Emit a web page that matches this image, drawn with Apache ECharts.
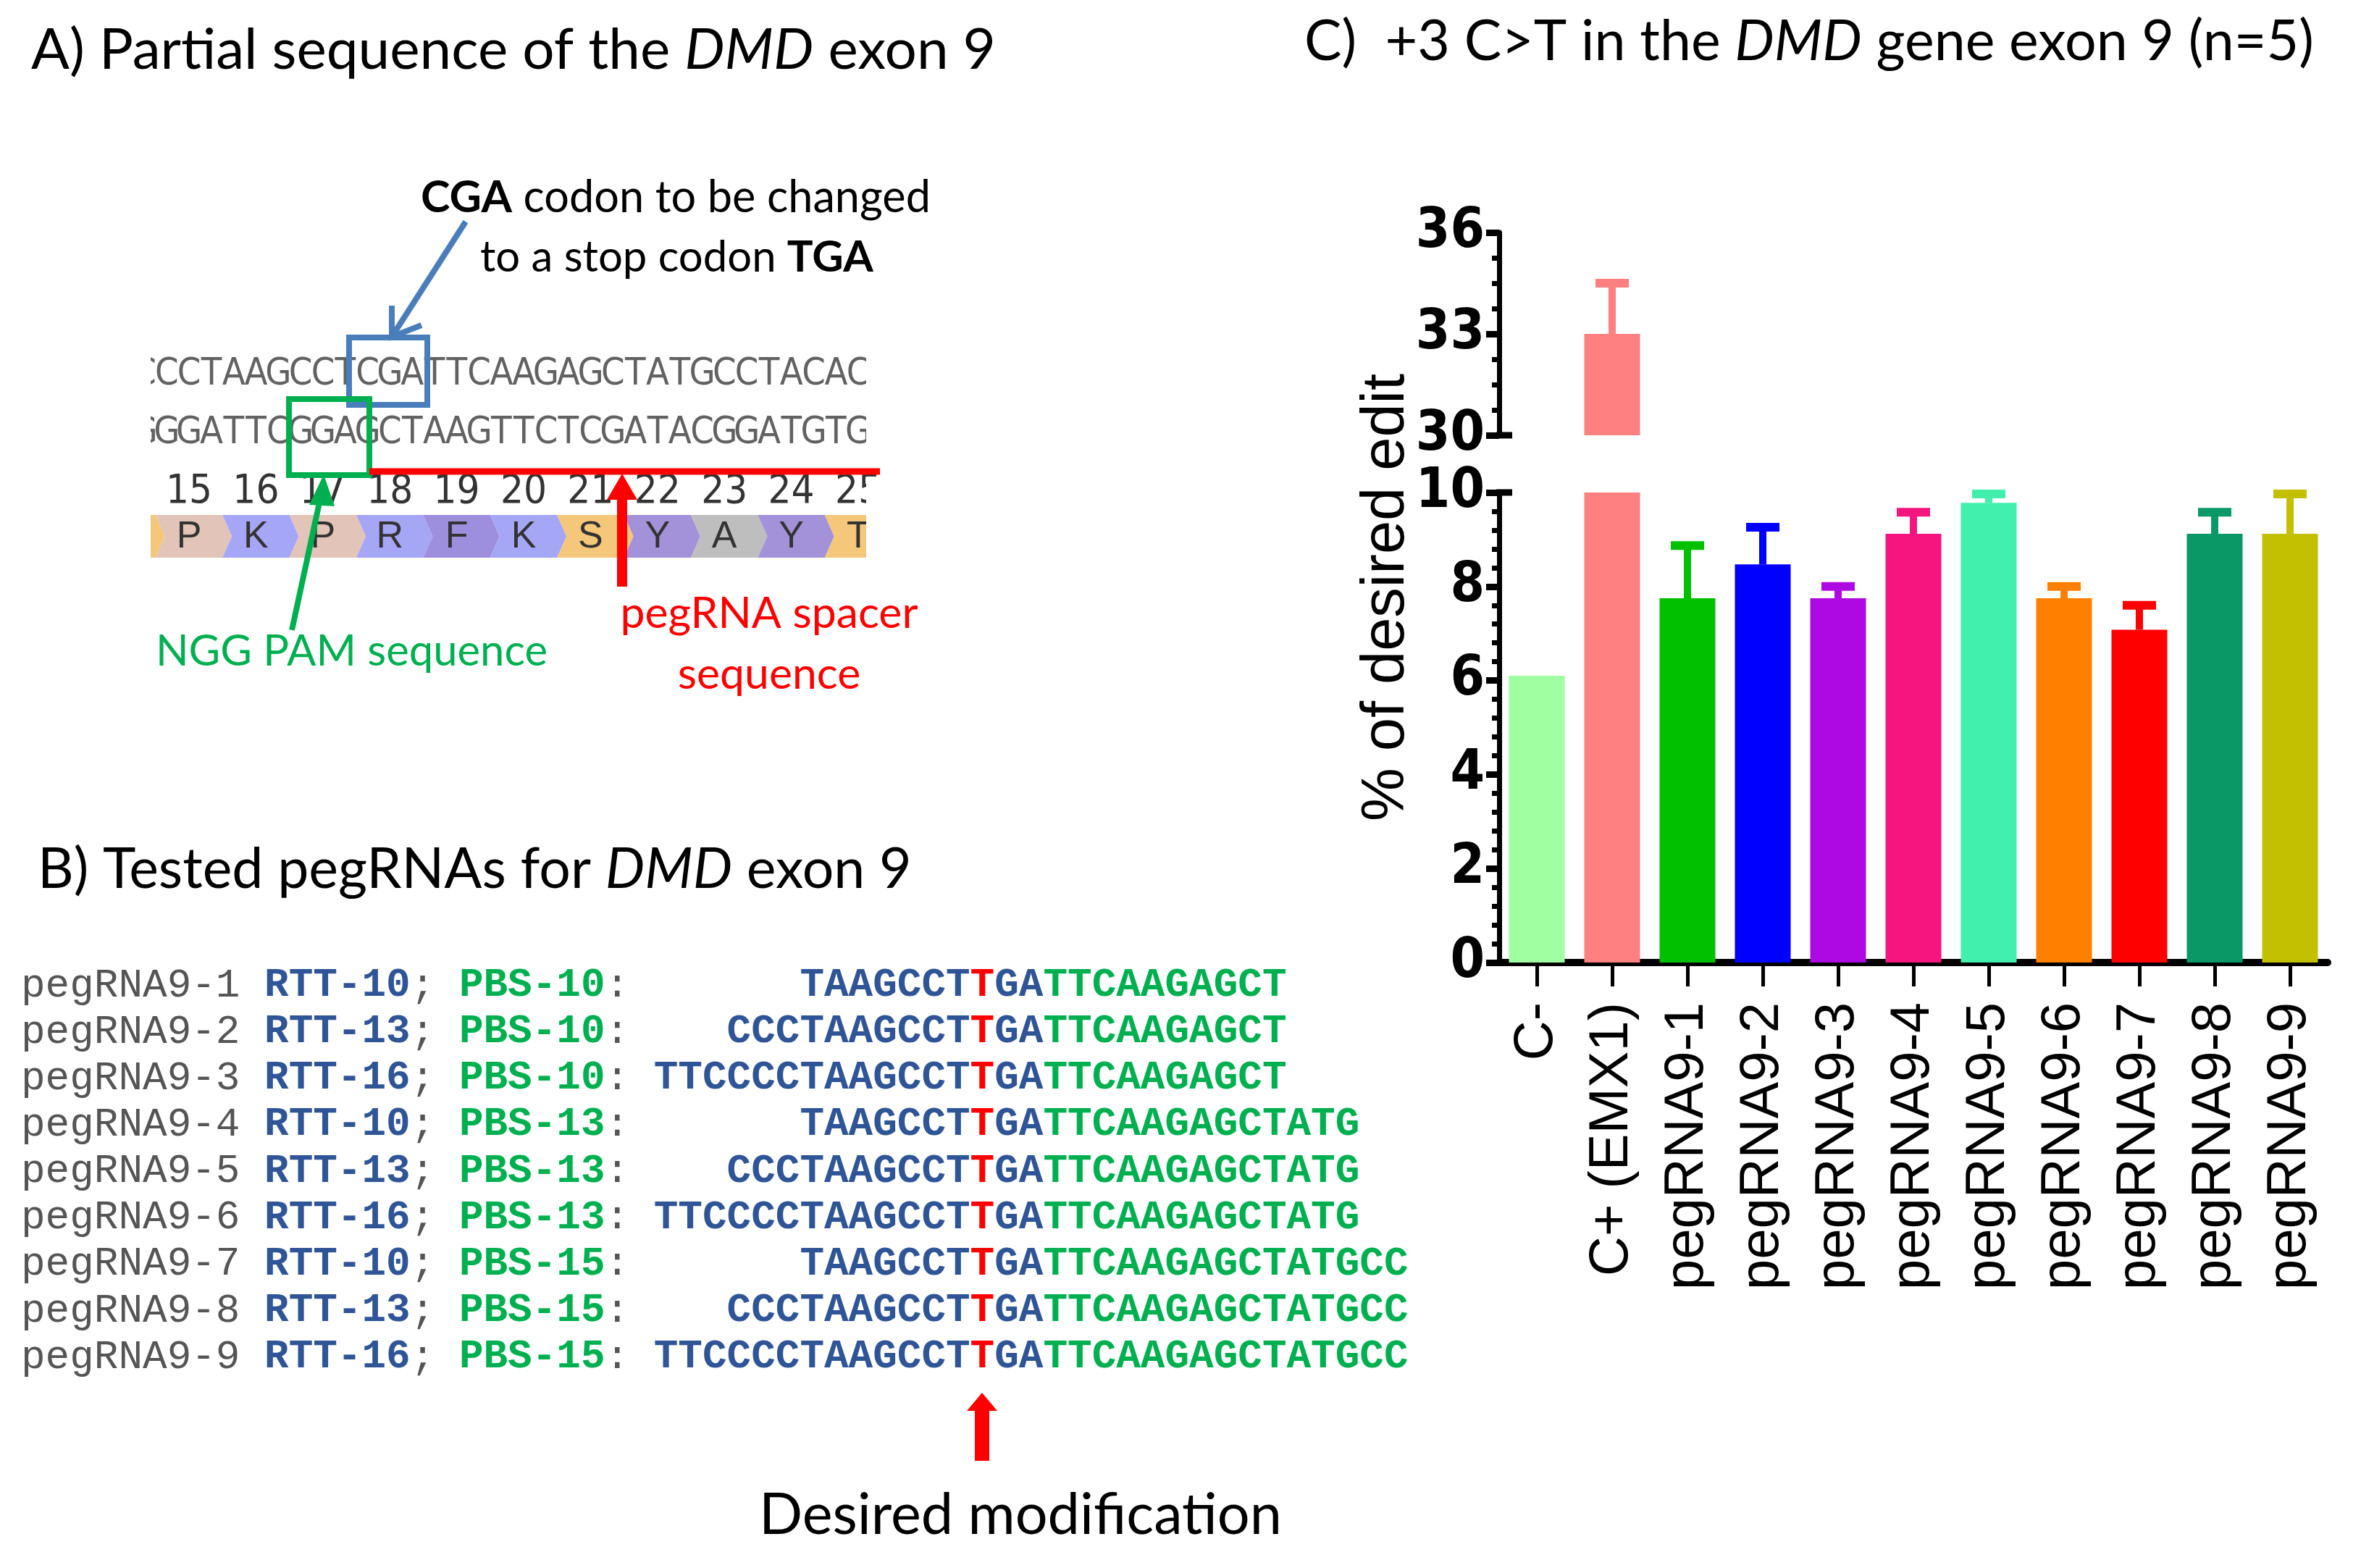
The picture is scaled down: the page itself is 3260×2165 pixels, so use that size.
<!DOCTYPE html>
<html><head><meta charset="utf-8">
<script src="https://cdn.jsdelivr.net/npm/echarts@6/dist/echarts.min.js"></script>
<style>html,body{margin:0;padding:0;background:#fff}#c{width:3260px;height:2165px}</style>
</head><body><div id="c"></div>
<script>
// ---------------- DATA ----------------
const categories = ['C-','C+ (EMX1)','pegRNA9-1','pegRNA9-2','pegRNA9-3','pegRNA9-4','pegRNA9-5','pegRNA9-6','pegRNA9-7','pegRNA9-8','pegRNA9-9'];
const meanValues = [6.1, 33.0, 7.75, 8.47, 7.75, 9.12, 9.78, 7.75, 7.08, 9.12, 9.12];
const errorTops  = [null, 34.5, 8.87, 9.26, 8.0, 9.58, 9.97, 8.0, 7.6, 9.58, 9.97];
const lowerTicks = [0, 2, 4, 6, 8, 10];
const upperTicks = [30, 33, 36];

const pegNames   = ['pegRNA9-1','pegRNA9-2','pegRNA9-3','pegRNA9-4','pegRNA9-5','pegRNA9-6','pegRNA9-7','pegRNA9-8','pegRNA9-9'];
const rttLengths = [10, 13, 16, 10, 13, 16, 10, 13, 16];
const pbsLengths = [10, 10, 10, 13, 13, 13, 15, 15, 15];
const rttTemplate = 'TTCCCCTAAGCCTTGA';
const pbsTemplate = 'TTCAAGAGCTATGCC';

const topStrand = 'CCTAAGCCTCGATTCAAGAGCTATGCCTACAC';
const bottomStrand = 'GGATTCGGAGCTAAGTTCTCGATACGGATGTG';
const codonNumbers = [15,16,17,18,19,20,21,22,23,24,25];
const aminoAcids = ['', 'P','K','P','R','F','K','S','Y','A','Y','T']; // codons 14..25

// ---------------- STYLE ----------------
const barColors = ['#A0FFA0','#FF8080','#00C000','#0000FF','#AE09E3','#F5157F','#42F0AE','#FF8000','#FF0000','#0A9966','#C2C000'];
const aaColors = ['#F4C77A','#E3C4B8','#A6A6F6','#E3C4B8','#A6A6F6','#9D8FDD','#A6A6F6','#F4C77A','#A392DA','#BEBEBE','#A392DA','#F4C77A'];
const SANS = "Lato, 'Open Sans', sans-serif";
const NARROW = "'Liberation Sans Narrow', 'DejaVu Sans Condensed', 'Liberation Sans', sans-serif";
const MONO = "'Liberation Mono', 'DejaVu Sans Mono', monospace";
const ARIAL = "'Liberation Sans', Arial, sans-serif";

const chart = echarts.init(document.getElementById('c'), null, {renderer:'canvas', width:3260, height:2165});

const ctx = document.createElement('canvas').getContext('2d');
function segWidth(segs, size, fam){
  let w = 0;
  for (const s of segs){ ctx.font = (s[1]||'') + ' ' + size + 'px ' + fam; w += ctx.measureText(s[0]).width; }
  return w;
}
function fitSize(segs, fam, target){ return 100 * target / segWidth(segs, 100, fam); }

const G = [];
function richText(x, y, segs, fam, size, color, align){
  const rich = {};
  let str = '';
  segs.forEach((s, i) => {
    const key = 's' + i;
    const st = s[1] || '';
    rich[key] = {fontSize:size, fontFamily:fam, fill:s[2]||color,
      fontStyle: st.indexOf('italic')>=0 ? 'italic':'normal',
      fontWeight: st.indexOf('bold')>=0 ? 'bold':'normal'};
    str += '{' + key + '|' + s[0] + '}';
  });
  G.push({type:'text', x:x, y:y, z:20, style:{text:str, rich:rich, textAlign:align||'left', verticalAlign:'middle', fill:color}});
}
function fitted(x, y, segs, target, color, align, fam){
  fam = fam || SANS;
  const size = fitSize(segs, fam, target);
  richText(x, y, segs, fam, size, color, align);
  return size;
}

// ---------------- Titles ----------------
fitted(43, 70, [['A) Partial sequence of the '],['DMD','italic'],[' exon 9']], 1332, '#000');
fitted(52, 1201, [['B) Tested pegRNAs for '],['DMD','italic'],[' exon 9']], 1207, '#000');
fitted(1801, 58, [['C)  +3 C>T in the '],['DMD','italic'],[' gene exon 9 (n=5)']], 1394, '#000');
fitted(1048, 2092, [['Desired modification']], 722, '#000');

// ---------------- Panel A ----------------
const pitch = 30.8, seqX0 = 215;
function charX(i){ return seqX0 + pitch*(i+0.5); }
function codonX(k){ return 261 + 3*pitch*(k-15); }
// amino acid chevrons
for (let k = 14; k <= 25; k++){
  const cx = codonX(k), x0 = cx - 1.5*pitch, x1 = cx + 1.5*pitch, d = 13, t = 711, b = 770, m = 740.5;
  G.push({type:'polygon', z:5, shape:{points:[[x0,t],[x1,t],[x1+d,m],[x1,b],[x0,b],[x0+d,m]]}, style:{fill:aaColors[k-14]}});
  if (aminoAcids[k-14]) G.push({type:'text', z:6, x:cx, y:742, style:{text:aminoAcids[k-14], fontSize:52, fontFamily:ARIAL, fill:'#333', textAlign:'center', verticalAlign:'middle'}});
}
// codon numbers
codonNumbers.forEach(n => {
  G.push({type:'text', z:6, x:codonX(n), y:679, style:{text:String(n), fontSize:56, fontFamily:NARROW, fill:'#333', textAlign:'center', verticalAlign:'middle'}});
});
// strands
const strandLeft = ['C','G'];
[topStrand, bottomStrand].forEach((s, r) => {
  const yc = r === 0 ? 517 : 598;
  const chars = strandLeft[r] + s;
  for (let i = 0; i < chars.length; i++){
    G.push({type:'text', z:6, x:charX(i-1), y:yc, style:{text:chars[i], fontSize:52, fontFamily:NARROW, fill:'#626262', textAlign:'center', verticalAlign:'middle'}});
  }
});
// white covers for clipped edges
G.push({type:'rect', z:7, shape:{x:120, y:470, width:88, height:310}, style:{fill:'#fff'}});
G.push({type:'rect', z:7, shape:{x:1196, y:470, width:120, height:178}, style:{fill:'#fff'}});
G.push({type:'rect', z:7, shape:{x:1196, y:658, width:120, height:122}, style:{fill:'#fff'}});
// boxes and lines
G.push({type:'rect', z:9, shape:{x:482, y:466, width:108, height:93}, style:{fill:null, stroke:'#4A7EBB', lineWidth:8}});
G.push({type:'rect', z:9, shape:{x:399, y:551, width:111, height:105}, style:{fill:null, stroke:'#00B050', lineWidth:8}});
G.push({type:'line', z:9, shape:{x1:510, y1:651, x2:1215, y2:651}, style:{stroke:'#FF0000', lineWidth:9}});
// blue arrow
G.push({type:'line', z:9, shape:{x1:643, y1:306, x2:541, y2:465}, style:{stroke:'#4A7EBB', lineWidth:8}});
G.push({type:'polyline', z:9, shape:{points:[[541,422],[541,465],[582,449]]}, style:{stroke:'#4A7EBB', lineWidth:8, fill:null}});
// green arrow
G.push({type:'line', z:9, shape:{x1:403, y1:870, x2:444, y2:680}, style:{stroke:'#00B050', lineWidth:8}});
G.push({type:'polygon', z:9, shape:{points:[[447,655],[427,697],[462,699]]}, style:{fill:'#00B050'}});
// red arrow (spacer)
G.push({type:'rect', z:9, shape:{x:852, y:684, width:14, height:126}, style:{fill:'#FF0000'}});
G.push({type:'polygon', z:9, shape:{points:[[859,654],[838,690],[880,690]]}, style:{fill:'#FF0000'}});
// annotations
fitted(581, 273, [['CGA','bold'],[' codon to be changed']], 704, '#000');
fitted(663, 356, [['to a stop codon '],['TGA','bold']], 543, '#000');
fitted(215, 900, [['NGG PAM sequence']], 541, '#00B050');
const spSize = fitSize([['pegRNA spacer']], SANS, 411);
richText(1062, 847, [['pegRNA spacer']], SANS, spSize, '#FF0000', 'center');
richText(1062, 931, [['sequence']], SANS, spSize, '#FF0000', 'center');

// ---------------- Panel B ----------------
const grayC = '#555555', blueC = '#2F5597', greenC = '#00B050', redC = '#FF0000';
pegNames.forEach((name, i) => {
  const r = rttLengths[i], p = pbsLengths[i];
  const rtt = rttTemplate.slice(rttTemplate.length - r);
  const pbs = pbsTemplate.slice(0, p);
  const pad = ' '.repeat(rttTemplate.length - r);
  const segs = [
    [name + ' ', '', grayC],
    ['RTT-' + r, 'bold', blueC],
    ['; ', '', grayC],
    ['PBS-' + p, 'bold', greenC],
    [': ' + pad, '', grayC],
    [rtt.slice(0, r - 3), 'bold', blueC],
    [rtt.slice(r - 3, r - 2), 'bold', redC],
    [rtt.slice(r - 2), 'bold', blueC],
    [pbs, 'bold', greenC]
  ];
  richText(29, 1361 + 64.1*i, segs, MONO, 56, grayC, 'left');
});
// red arrow (desired modification)
G.push({type:'rect', z:9, shape:{x:1346, y:1945, width:20, height:72}, style:{fill:'#FF0000'}});
G.push({type:'polygon', z:9, shape:{points:[[1356,1923],[1335,1948],[1377,1948]]}, style:{fill:'#FF0000'}});

// ---------------- Panel C chart ----------------
const yLabel = {fontSize:76, fontWeight:'bold', fontFamily:NARROW, color:'#000', margin:20};
function yAxisDef(gi, ticks, minorSplit){
  return {gridIndex:gi, type:'value', min:ticks[0], max:ticks[ticks.length-1], interval:ticks[1]-ticks[0],
    splitLine:{show:false},
    axisLine:{show:true, lineStyle:{color:'#000', width:7}},
    axisTick:{show:true, inside:false, length:18, lineStyle:{color:'#000', width:9}},
    minorTick:{show:true, splitNumber:minorSplit, length:10, lineStyle:{color:'#000', width:7}},
    minorSplitLine:{show:false},
    axisLabel:yLabel};
}
function errRender(params, api){
  const i = api.value(0), m = api.value(1), hi = api.value(2);
  const p0 = api.coord([i, m]), p1 = api.coord([i, hi]);
  const col = barColors[i];
  return {type:'group', children:[
    {type:'rect', shape:{x:p0[0]-5, y:p1[1], width:10, height:p0[1]-p1[1]}, style:{fill:col}},
    {type:'rect', shape:{x:p0[0]-23, y:p1[1]-6, width:46, height:12}, style:{fill:col}}
  ]};
}
const lowMax = lowerTicks[lowerTicks.length-1], upMin = upperTicks[0];
const errLow = [], errUp = [];
meanValues.forEach((v, i) => {
  if (errorTops[i] == null) return;
  if (v < lowMax) errLow.push([i, v, errorTops[i]]); else if (v > upMin) errUp.push([i, v, errorTops[i]]);
});

const option = {
  animation:false,
  backgroundColor:'#fff',
  grid:[
    {left:2070, top:680, width:1144, height:649, outerBoundsMode:'none', containLabel:false},
    {left:2070, top:321, width:1144, height:280, outerBoundsMode:'none', containLabel:false}
  ],
  xAxis:[
    {gridIndex:0, type:'category', data:categories, offset:5,
      axisLine:{show:true, lineStyle:{color:'#000', width:10}},
      axisTick:{show:true, alignWithLabel:true, length:33, lineStyle:{color:'#000', width:5}},
      axisLabel:{rotate:90, interval:0, fontSize:76, fontFamily:ARIAL, color:'#000', margin:50}},
    {gridIndex:1, type:'category', data:categories, show:false}
  ],
  yAxis:[ yAxisDef(0, lowerTicks, 5), yAxisDef(1, upperTicks, 4) ],
  series:[
    {type:'bar', xAxisIndex:0, yAxisIndex:0, barWidth:77, clip:true,
      data: meanValues.map((v, i) => ({value:v, itemStyle:{color:barColors[i]}}))},
    {type:'bar', xAxisIndex:1, yAxisIndex:1, barWidth:77, clip:true,
      data: meanValues.map((v, i) => v > upMin ? {value:v, itemStyle:{color:barColors[i]}} : '-')},
    {type:'custom', xAxisIndex:0, yAxisIndex:0, renderItem:errRender, data:errLow, encode:{x:0, y:[1,2]}, clip:false, z:3},
    {type:'custom', xAxisIndex:1, yAxisIndex:1, renderItem:errRender, data:errUp, encode:{x:0, y:[1,2]}, clip:false, z:3}
  ]
};
chart.setOption(option);

// broken-axis end ticks that extend to the right, and the y-axis title
const yBreakUp = chart.convertToPixel({yAxisIndex:1}, upMin);
const yBreakLow = chart.convertToPixel({yAxisIndex:0}, lowMax);
const xAxisPx = chart.convertToPixel({yAxisIndex:0}, 0);
[yBreakUp, yBreakLow].forEach(y => {
  G.push({type:'rect', z:30, shape:{x:2066, y:y-4.5, width:22, height:9}, style:{fill:'#000'}});
});
G.push({type:'text', z:20, x:1915, y:(chart.convertToPixel({yAxisIndex:1}, upperTicks[upperTicks.length-1]) + xAxisPx)/2, rotation:Math.PI/2,
  style:{text:'% of desired edit', fontSize:83, fontFamily:ARIAL, fill:'#000', textAlign:'center', verticalAlign:'middle'}});

chart.setOption({graphic:{elements:G}});
</script></body></html>
